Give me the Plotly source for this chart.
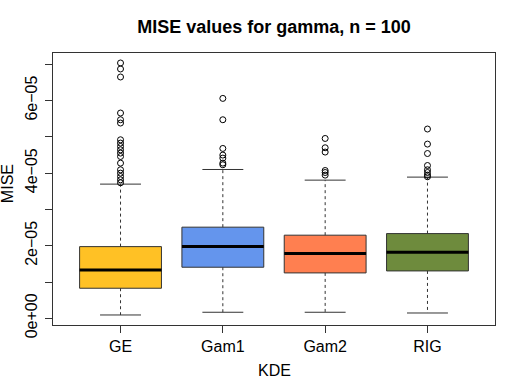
import plotly.graph_objects as go

# Summary stats
kde = ['GE', 'Gam1', 'Gam2', 'RIG']
colors = ['#FFC125', '#6495ED', '#FF7F50', '#6E8B3D']
lower_whisker = [0.091e-5, 0.166e-5, 0.166e-5, 0.146e-5]
q1 = [0.828e-5, 1.407e-5, 1.25e-5, 1.305e-5]
median = [1.333e-5, 1.975e-5, 1.782e-5, 1.821e-5]
q3 = [1.975e-5, 2.511e-5, 2.29e-5, 2.334e-5]
upper_whisker = [3.697e-5, 4.10e-5, 3.807e-5, 3.89e-5]

# outliers per group
outliers = [
    [7.035e-5, 6.87e-5, 6.649e-5, 5.656e-5, 5.471e-5, 5.38e-5,
     4.919e-5, 4.828e-5, 4.735e-5, 4.643e-5, 4.552e-5, 4.459e-5, 4.276e-5,
     4.092e-5, 4.0e-5, 3.907e-5, 3.816e-5, 3.733e-5],
    [6.059e-5, 5.471e-5, 4.68e-5, 4.497e-5, 4.414e-5, 4.276e-5, 4.23e-5],
    [4.955e-5, 4.699e-5, 4.58e-5, 4.072e-5, 4.017e-5, 3.945e-5],
    [5.215e-5, 4.8e-5, 4.54e-5, 4.21e-5, 4.092e-5, 4.017e-5, 3.945e-5, 3.9e-5],
]

ytick_vals = [i * 1e-5 for i in range(8)]
ytick_text = ['0e+00', '', '2e\u221205', '', '4e\u221205', '', '6e\u221205', '']

FONT = 'Liberation Sans, Arial, Helvetica, sans-serif'
EDGE = '#333333'

fig = go.Figure()

xs = [1, 2, 3, 4]

# boxes
fig.add_trace(go.Bar(
    x=xs, y=[b - a for a, b in zip(q1, q3)], base=q1, width=0.8,
    marker=dict(color=colors, line=dict(color=EDGE, width=1)),
    hoverinfo='skip'
))

for i, x in enumerate(xs):
    # whiskers (dashed)
    fig.add_trace(go.Scatter(
        x=[x, x], y=[q3[i], upper_whisker[i]], mode='lines',
        line=dict(color=EDGE, width=1, dash='3px,3px')))
    fig.add_trace(go.Scatter(
        x=[x, x], y=[q1[i], lower_whisker[i]], mode='lines',
        line=dict(color=EDGE, width=1, dash='3px,3px')))
    # caps
    fig.add_trace(go.Scatter(
        x=[x - 0.2, x + 0.2], y=[upper_whisker[i]] * 2, mode='lines',
        line=dict(color=EDGE, width=1)))
    fig.add_trace(go.Scatter(
        x=[x - 0.2, x + 0.2], y=[lower_whisker[i]] * 2, mode='lines',
        line=dict(color=EDGE, width=1)))
    # median
    fig.add_trace(go.Scatter(
        x=[x - 0.4, x + 0.4], y=[median[i]] * 2, mode='lines',
        line=dict(color='black', width=3)))
    # outliers
    fig.add_trace(go.Scatter(
        x=[x] * len(outliers[i]), y=outliers[i], mode='markers',
        marker=dict(symbol='circle-open', size=6, color='black',
                    line=dict(width=1))))

# axis titles as annotations so they sit where R puts them
fig.add_annotation(text='MISE', xref='paper', yref='paper', x=-0.104, y=0.518,
                   textangle=-90, showarrow=False, xanchor='center', yanchor='middle')
fig.add_annotation(text='KDE', xref='paper', yref='paper', x=0.5, y=-0.169,
                   showarrow=False, xanchor='center', yanchor='middle')

fig.update_layout(
    width=523, height=392,
    margin=dict(l=53, r=28, t=53, b=67),
    paper_bgcolor='white', plot_bgcolor='white',
    showlegend=False,
    font=dict(family=FONT, size=16, color='black'),
    title=dict(text='<b>MISE values for gamma, n = 100</b>', x=0.524, xanchor='center',
               y=1 - 27 / 392, yanchor='middle', font=dict(size=18)),
    xaxis=dict(
        range=[0.34, 4.66], tickvals=xs, ticktext=kde,
        showgrid=False, zeroline=False, automargin=False,
        showline=True, linecolor=EDGE, linewidth=1, mirror=True,
        ticks='outside', ticklen=7, tickcolor=EDGE,
    ),
    yaxis=dict(
        range=[-1.85e-6, 7.31e-5], tickvals=ytick_vals, ticktext=ytick_text,
        tickangle=-90, showgrid=False, zeroline=False, automargin=False,
        showline=True, linecolor=EDGE, linewidth=1, mirror=True,
        ticks='outside', ticklen=7, tickcolor=EDGE, ticklabelstandoff=2,
    ),
)

# drop the default 8px body margin so the figure sits at the page corner
fig.write_html('out.html', config={'displayModeBar': False},
               post_script="document.body.style.margin='0';")
